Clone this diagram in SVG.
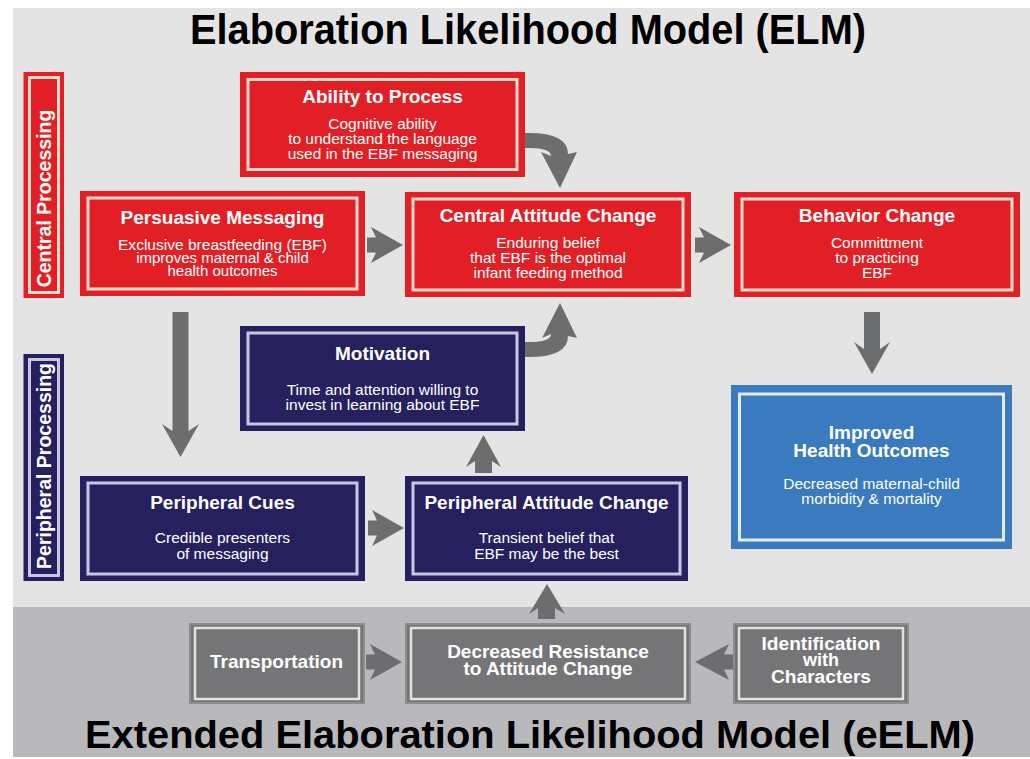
<svg xmlns="http://www.w3.org/2000/svg" width="1030" height="759" viewBox="0 0 1030 759">
<style>
.red{fill:#e31f26}
.redin{fill:none;stroke:#f8dccf;stroke-width:3}
.navy{fill:#27205f}
.navyin{fill:none;stroke:#c9c6e2;stroke-width:3}
.blue{fill:#3a7bbf}
.bluein{fill:none;stroke:#e3ebf6;stroke-width:3}
.gray{fill:#757578;stroke:#8d8d90;stroke-width:2}
.grayin{fill:none;stroke:#e2e2e2;stroke-width:2.5}
.arr{fill:#6b6d6f}
text{font-family:"Liberation Sans",Arial,Helvetica,sans-serif;fill:#ffffff;text-anchor:middle}
.h{font-size:19px;font-weight:bold}
.b{font-size:15.5px}
.bs{font-size:15px}
.hs{font-size:18px;font-weight:bold}
.side{font-size:19.5px;font-weight:bold}
.title{font-family:"Liberation Sans Narrow","Liberation Sans",Arial,sans-serif;font-weight:bold;fill:#000000;text-anchor:start}
</style>
<rect x="0" y="0" width="1030" height="759" fill="#ffffff"/>
<rect x="13" y="8" width="1017" height="599" fill="#e4e4e4"/>
<rect x="13" y="607" width="1017" height="150" fill="#b9b9bc"/>
<text class="title" x="190" y="44" font-size="42" textLength="676" lengthAdjust="spacingAndGlyphs">Elaboration Likelihood Model (ELM)</text>
<text class="title" x="85" y="748" font-size="39" textLength="890" lengthAdjust="spacingAndGlyphs">Extended Elaboration Likelihood Model (eELM)</text>

<g id="central-processing">
<rect class="red" x="23.5" y="72" width="40.5" height="226"/>
<rect class="redin" x="29.5" y="77.5" width="29" height="215"/>
<text class="side" transform="translate(51,198.5) rotate(-90)">Central Processing</text>
</g>
<g id="peripheral-processing">
<rect class="navy" x="23.5" y="354" width="40.5" height="227"/>
<rect class="navyin" x="29.5" y="359.5" width="29" height="216"/>
<text class="side" transform="translate(51,466) rotate(-90)">Peripheral Processing</text>
</g>

<g id="ability">
<rect class="red" x="240" y="72" width="285" height="105"/>
<rect class="redin" x="248" y="79.5" width="269" height="90"/>
<text class="h" x="382.5" y="103">Ability to Process</text>
<text class="b" x="382.5" y="129">Cognitive ability</text>
<text class="b" x="382.5" y="144">to understand the language</text>
<text class="b" x="382.5" y="159">used in the EBF messaging</text>
</g>
<g id="persuasive">
<rect class="red" x="80" y="191" width="285" height="105"/>
<rect class="redin" x="88" y="198" width="269" height="91"/>
<text class="h" x="222.5" y="224">Persuasive Messaging</text>
<text class="bs" x="222.5" y="249.5" textLength="209" lengthAdjust="spacingAndGlyphs">Exclusive breastfeeding (EBF)</text>
<text class="bs" x="222.5" y="262.5">improves maternal &amp; child</text>
<text class="bs" x="222.5" y="275.5">health outcomes</text>
</g>
<g id="central-attitude">
<rect class="red" x="405" y="192" width="286" height="105"/>
<rect class="redin" x="413" y="199" width="270" height="91"/>
<text class="h" x="548" y="222">Central Attitude Change</text>
<text class="b" x="548" y="248">Enduring belief</text>
<text class="b" x="548" y="263">that EBF is the optimal</text>
<text class="b" x="548" y="278">infant feeding method</text>
</g>
<g id="behavior">
<rect class="red" x="734" y="192" width="286" height="105"/>
<rect class="redin" x="742" y="199" width="270" height="91"/>
<text class="h" x="877" y="222">Behavior Change</text>
<text class="b" x="877" y="248">Committment</text>
<text class="b" x="877" y="263">to practicing</text>
<text class="b" x="877" y="278">EBF</text>
</g>
<g id="motivation">
<rect class="navy" x="240" y="326" width="285" height="105"/>
<rect class="navyin" x="248" y="333" width="269" height="91"/>
<text class="h" x="382.5" y="360">Motivation</text>
<text class="b" x="382.5" y="395">Time and attention willing to</text>
<text class="b" x="382.5" y="410">invest in learning about EBF</text>
</g>
<g id="peripheral-cues">
<rect class="navy" x="80" y="476" width="285" height="105"/>
<rect class="navyin" x="88" y="483" width="269" height="91"/>
<text class="h" x="222.5" y="509">Peripheral Cues</text>
<text class="b" x="222.5" y="543">Credible presenters</text>
<text class="b" x="222.5" y="559">of messaging</text>
</g>
<g id="peripheral-attitude">
<rect class="navy" x="405" y="476" width="283" height="105"/>
<rect class="navyin" x="413" y="483" width="267" height="91"/>
<text class="h" x="546.5" y="509">Peripheral Attitude Change</text>
<text class="b" x="546.5" y="543">Transient belief that</text>
<text class="b" x="546.5" y="559">EBF may be the best</text>
</g>
<g id="health-outcomes">
<rect class="blue" x="731" y="385" width="281" height="164"/>
<rect class="bluein" x="739.5" y="394" width="264" height="146"/>
<text class="h" x="871.5" y="439">Improved</text>
<text class="h" x="871.5" y="457">Health Outcomes</text>
<text class="b" x="871.5" y="489">Decreased maternal-child</text>
<text class="b" x="871.5" y="504">morbidity &amp; mortality</text>
</g>
<g id="transportation">
<rect class="gray" x="190" y="624" width="174" height="79"/>
<rect class="grayin" x="195" y="628" width="164" height="71"/>
<text class="h" x="276.5" y="668">Transportation</text>
</g>
<g id="decreased-resistance">
<rect class="gray" x="406" y="624" width="284" height="79"/>
<rect class="grayin" x="411" y="628" width="274" height="71"/>
<text class="h" x="548" y="658">Decreased Resistance</text>
<text class="h" x="548" y="675">to Attitude Change</text>
</g>
<g id="identification">
<rect class="gray" x="734" y="624" width="174" height="79"/>
<rect class="grayin" x="739" y="628" width="164" height="71"/>
<text class="hs" x="821" y="649.5" textLength="119" lengthAdjust="spacingAndGlyphs">Identification</text>
<text class="hs" x="821" y="666">with</text>
<text class="hs" x="821" y="683" textLength="100" lengthAdjust="spacingAndGlyphs">Characters</text>
</g>

<g id="connectors" class="arr">
<polygon points="0,-7.5 9,-7.5 4,-18 36,0 4,18 9,7.5 0,7.5" transform="translate(367,245)"/>
<polygon points="0,-7.5 9,-7.5 4,-18 36,0 4,18 9,7.5 0,7.5" transform="translate(695,245)"/>
<polygon points="0,-7.5 9,-7.5 4,-18 36,0 4,18 9,7.5 0,7.5" transform="translate(368,528)"/>
<polygon points="0,-7.5 9,-7.5 4,-18 36,0 4,18 9,7.5 0,7.5" transform="translate(366,662)"/>
<polygon points="733,654.5 724,654.5 729,644 695,662 729,680 724,669.5 733,669.5"/>
<polygon points="172.5,312 188.5,312 188.5,431 199,424 180.5,457 162,424 172.5,431"/>
<polygon points="864,312 880,312 880,349 890,342 872,374 854,342 864,349"/>
<polygon points="483.5,435 501,467 492,461 492,473 475,473 475,461 466,467"/>
<polygon points="547,584 565,614 555,608 555,619 538,619 538,608 529,614"/>
<path d="M525,133 L529,133 Q568,133 568,154 L577,152 L560,188 L541,152 L551,156 Q551,148 529,148 L525,148 Z"/>
<path d="M525,357 L529,357 Q568,357 568,336 L577,338 L560,303 L542,338 L551,334 Q551,342 529,342 L525,342 Z"/>
</g>
</svg>
